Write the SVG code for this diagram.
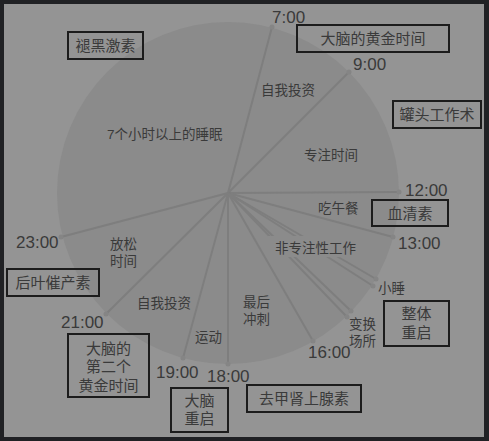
<svg xmlns="http://www.w3.org/2000/svg" width="489" height="441" viewBox="0 0 489 441">
<style>
.t{font-family:"Liberation Sans","Noto Sans CJK SC",sans-serif;fill:#3a3a3a}
.tm{font-size:17px}
.lb{font-size:13.5px}
.bx{font-size:15px;text-anchor:middle}
.box{fill:none;stroke:#1c1c1c;stroke-width:2}
.ln{stroke:#7e7e7e;stroke-width:2;fill:none}
.dot{fill:#858585}
</style>
<rect x="0" y="0" width="489" height="441" fill="#202124"/>
<rect x="4" y="4" width="480" height="433" fill="#949494"/>
<circle id="clock" cx="228" cy="193" r="171" fill="#8b8b8b"/>
<g id="connectors">
<line class="ln" x1="228" y1="193" x2="272" y2="27"/>
<line class="ln" x1="228" y1="193" x2="349" y2="72"/>
<line class="ln" x1="228" y1="193" x2="399" y2="192"/>
<line class="ln" x1="228" y1="193" x2="393" y2="237"/>
<line class="ln" x1="228" y1="193" x2="376" y2="279"/>
<line class="ln" x1="228" y1="193" x2="373" y2="286"/>
<line class="ln" x1="228" y1="193" x2="351" y2="311"/>
<line class="ln" x1="228" y1="193" x2="347" y2="317"/>
<line class="ln" x1="228" y1="193" x2="313" y2="341"/>
<line class="ln" x1="228" y1="193" x2="228" y2="364"/>
<line class="ln" x1="228" y1="193" x2="183" y2="358"/>
<line class="ln" x1="228" y1="193" x2="106" y2="314"/>
<line class="ln" x1="228" y1="193" x2="61" y2="237"/>
<circle class="dot" cx="272" cy="27" r="2.5"/>
<circle class="dot" cx="349" cy="72" r="2.5"/>
<circle class="dot" cx="399" cy="192" r="2.5"/>
<circle class="dot" cx="393" cy="237" r="2.5"/>
<circle class="dot" cx="376" cy="279" r="2.5"/>
<circle class="dot" cx="373" cy="286" r="2.5"/>
<circle class="dot" cx="351" cy="311" r="2.5"/>
<circle class="dot" cx="347" cy="317" r="2.5"/>
<circle class="dot" cx="313" cy="341" r="2.5"/>
<circle class="dot" cx="228" cy="364" r="2.5"/>
<circle class="dot" cx="183" cy="358" r="2.5"/>
<circle class="dot" cx="106" cy="314" r="2.5"/>
<circle class="dot" cx="61" cy="237" r="2.5"/>
</g>
<g id="times">
<text class="t tm" x="272" y="23">7:00</text>
<text class="t tm" x="353" y="70">9:00</text>
<text class="t tm" x="405" y="196">12:00</text>
<text class="t tm" x="398" y="249">13:00</text>
<text class="t tm" x="308" y="358">16:00</text>
<text class="t tm" x="207" y="382">18:00</text>
<text class="t tm" x="156" y="378">19:00</text>
<text class="t tm" x="61" y="328">21:00</text>
<text class="t tm" x="16" y="248">23:00</text>
</g>
<g id="segments">
<text class="t lb" x="107" y="139">7个小时以上的睡眠</text>
<text class="t lb" x="261" y="95">自我投资</text>
<text class="t lb" x="304" y="160">专注时间</text>
<text class="t lb" x="318" y="213">吃午餐</text>
<rect x="268" y="236" width="94" height="21" fill="#8b8b8b"/>
<text class="t lb" x="275" y="253">非专注性工作</text>
<text class="t lb" x="378" y="293">小睡</text>
<text class="t lb" x="349" y="329">变换</text>
<text class="t lb" x="349" y="346">场所</text>
<text class="t lb" x="243" y="307">最后</text>
<text class="t lb" x="243" y="324">冲刺</text>
<text class="t lb" x="110" y="249">放松</text>
<text class="t lb" x="110" y="266">时间</text>
<text class="t lb" x="137" y="308">自我投资</text>
<text class="t lb" x="195" y="342">运动</text>
</g>
<g id="box-melatonin"><rect class="box" x="68" y="32" width="75" height="27"/><text class="t bx" x="105.5" y="51">褪黑激素</text></g>
<g id="box-golden"><rect class="box" x="297" y="25" width="152" height="27"/><text class="t bx" x="373" y="44">大脑的黄金时间</text></g>
<g id="box-can"><rect class="box" x="393" y="101" width="88" height="27"/><text class="t bx" x="437" y="120">罐头工作术</text></g>
<g id="box-serotonin"><rect class="box" x="372" y="200" width="76" height="26"/><text class="t bx" x="410" y="219">血清素</text></g>
<g id="box-oxytocin"><rect class="box" x="7" y="269" width="92" height="27"/><text class="t bx" x="53" y="288">后叶催产素</text></g>
<g id="box-golden2"><rect class="box" x="68" y="334" width="81" height="63"/><text class="t bx" x="108.5" y="354">大脑的</text><text class="t bx" x="108.5" y="372">第二个</text><text class="t bx" x="108.5" y="391">黄金时间</text></g>
<g id="box-reboot"><rect class="box" x="171" y="388" width="57" height="44"/><text class="t bx" x="199.5" y="406">大脑</text><text class="t bx" x="199.5" y="424">重启</text></g>
<g id="box-noradrenaline"><rect class="box" x="247" y="385" width="114" height="27"/><text class="t bx" x="304" y="404">去甲肾上腺素</text></g>
<g id="box-whole"><rect class="box" x="384" y="301" width="65" height="45"/><text class="t bx" x="416.5" y="319">整体</text><text class="t bx" x="416.5" y="338">重启</text></g>
</svg>
